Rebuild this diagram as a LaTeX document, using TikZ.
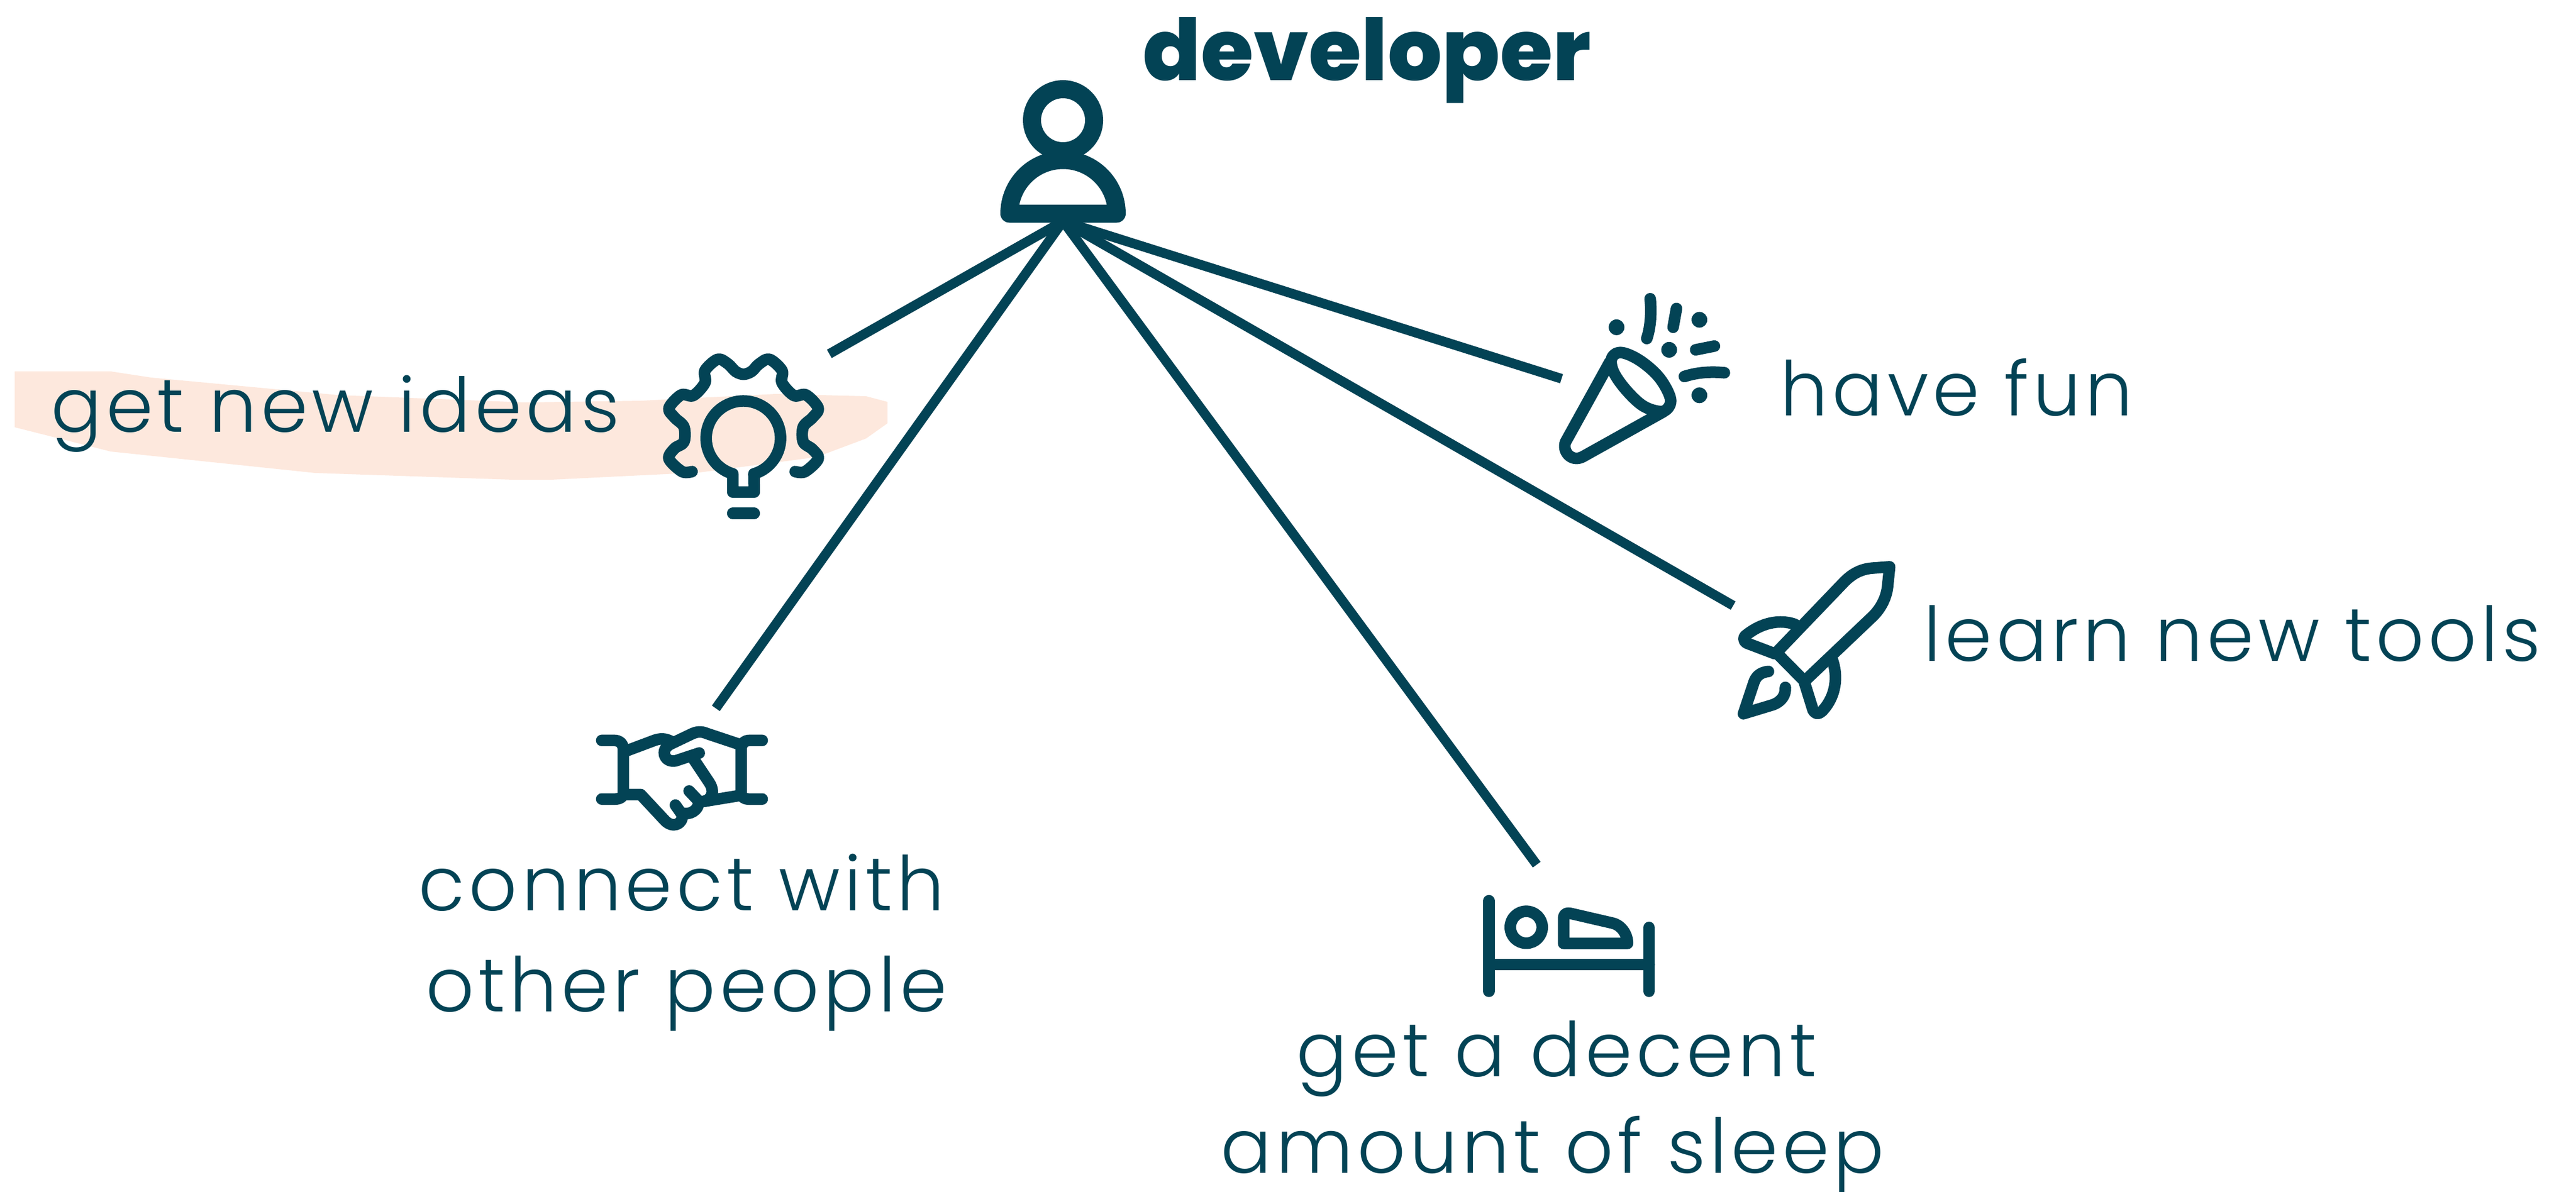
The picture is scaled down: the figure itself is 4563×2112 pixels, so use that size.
\documentclass[tikz,border=0pt]{standalone}
\usepackage{fontspec}
\setmainfont{Poppins Light}[LetterSpace=5.5]
\newfontfamily\boldface{Poppins ExtraBold}
\definecolor{ink}{HTML}{034355}
\definecolor{peach}{HTML}{FDE8DD}
\tikzset{
  px/.style={line width=#1*0.01cm},
  icon/.style={draw=ink,px=20.5,line cap=round,line join=round},
  zoomat/.style 2 args={shift={(#1,#2)},x=0.0033333cm,y=-0.0033333cm},
  label/.style={anchor=base west,inner sep=0pt,text=ink,font=\fontsize{38}{46}\selectfont},
  link/.style={draw=ink,px=17},
}
\begin{document}
\begin{tikzpicture}[x=0.01cm,y=-0.01cm]
\useasboundingbox (0,0) rectangle (4563,2112);
\fill[peach] (26,658) -- (196,658) -- (268,669) -- (599,700) -- (930,713) -- (1136,710) -- (1374,698) -- (1534,702) -- (1572,712) -- (1572,750) -- (1534,777) -- (1446,810) -- (1240,837) -- (976,850) -- (909,850) -- (558,838) -- (196,800) -- (26,757) -- cycle;
% hub
\coordinate (hub) at (1883,392);
\coordinate (e1) at (1469,627);
\coordinate (e2) at (1268,1255);
\coordinate (e3) at (2766,671);
\coordinate (e4) at (3070,1073);
\coordinate (e5) at (2722,1532);
\foreach \e in {e1,e2,e3,e4,e5} \draw[link] (hub) -- (\e);
% person
\draw[ink,px=32] (1883,213) circle[radius=55];
\draw[ink,px=32,line join=round] (1788,378.5) arc[start angle=180,end angle=360,radius=95] -- cycle;
% gear bulb
\begin{scope}[zoomat={1100}{560}]
\draw[icon] plot[smooth,tension=0.55] coordinates {(378,828) (325,828) (255,760) (285,705) (335,670) (335,590) (285,540) (255,490) (320,420) (385,423) (447,355) (447,290) (515,230) (570,255) (610,295) (652,310) (695,295) (735,255) (790,230) (857,290) (857,355) (920,423) (985,420) (1050,490) (1020,540) (970,590) (970,670) (1020,710) (1050,760) (980,828) (927,828)};
\draw[icon] (595,937) -- (595,840) arc[start angle=106.5,end angle=433.5,radius=198] -- (709,937) -- cycle;
\draw[icon] (595,1050) -- (709,1050);
\end{scope}
% handshake
\begin{scope}[zoomat={1000}{1250}]
\draw[icon] (198,186) -- (265,186) .. controls (295,186) and (313,205) .. (313,235) -- (313,470) .. controls (313,485) and (295,498) .. (270,498) -- (198,498);
\draw[icon] (1052,186) -- (985,186) .. controls (955,186) and (940,205) .. (940,235) -- (940,470) .. controls (940,485) and (955,498) .. (980,498) -- (1052,498);
\draw[icon] (320,245) -- (480,185) .. controls (510,175) and (535,175) .. (565,190);
\draw[icon] (313,474) -- (405,474) -- (530,608) .. controls (575,660) and (635,630) .. (625,580) -- (590,530);
\draw[icon] (625,572) .. controls (665,585) and (715,560) .. (715,510) -- (663,455);
\draw[icon] (715,510) .. controls (770,520) and (810,470) .. (770,410) -- (690,290);
\draw[icon] (717,253) -- (590,295) .. controls (530,305) and (505,235) .. (565,205) -- (680,150) .. controls (715,135) and (735,140) .. (760,150) -- (940,210);
\draw[icon] (940,478) -- (745,510);
\end{scope}
% popper
\begin{scope}[zoomat={2720}{500}]
\draw[icon] plot[smooth cycle,tension=0.6] coordinates {(407,400) (460,375) (560,420) (660,510) (718,620) (695,680) (640,685) (560,650) (470,560) (412,470)};
\draw[icon] (395,425) -- (160,850) .. controls (140,900) and (190,960) .. (250,930) -- (680,690);
\fill[ink] (431,240) circle[radius=42] (872,200) circle[radius=42] (711,360) circle[radius=42] (872,602) circle[radius=42];
\draw[icon] (610,88) .. controls (618,160) and (612,240) .. (592,300);
\draw[icon] (750,140) -- (732,240);
\draw[icon] (852,360) -- (952,340);
\draw[icon] (792,502) .. controls (860,480) and (930,475) .. (1005,482);
\end{scope}
% rocket
\begin{scope}[zoomat={3040}{970}]
\draw[icon] (320,560) -- (670,195) .. controls (720,140) and (770,115) .. (830,110) -- (923,103) -- (912,210) .. controls (905,270) and (875,325) .. (835,365) -- (470,712) -- cycle;
\draw[icon] (420,410) .. controls (340,380) and (240,400) .. (155,470) .. controls (140,485) and (150,505) .. (165,510) -- (310,565);
\draw[icon] (615,590) .. controls (650,680) and (640,790) .. (565,870) .. controls (540,895) and (520,880) .. (515,865) -- (470,720);
\draw[icon] (278,660) .. controls (230,665) and (210,690) .. (200,720) -- (145,885) -- (300,838) .. controls (350,820) and (370,785) .. (368,745);
\end{scope}
% bed
\begin{scope}[zoomat={2600}{1570}]
\draw[icon] (112,78) -- (112,560);
\draw[icon] (965,220) -- (965,560);
\draw[icon] (112,417) -- (965,417);
\draw[icon] (311,219) circle[radius=85];
\draw[icon] (510,305) -- (850,305) .. controls (850,250) and (810,205) .. (770,197) -- (545,145) .. controls (525,140) and (510,150) .. (510,170) -- cycle;
\end{scope}
% labels
\node[label,font=\boldface\fontsize{43}{50}\selectfont] (dev) at (2024,142) {developer};
\node[label] (t1) at (90,765) {get new ideas};
\node[label] (t2) at (3153,736) {have fun};
\node[label] (t3) at (3407,1171) {learn new tools};
\node[label] (t4a) at (741,1613) {connect with};
\node[label] (t4b) at (754,1792) {other people};
\node[label] (t5a) at (2296,1907) {get a decent};
\node[label] (t5b) at (2162,2078) {amount of sleep};
\end{tikzpicture}
\end{document}
